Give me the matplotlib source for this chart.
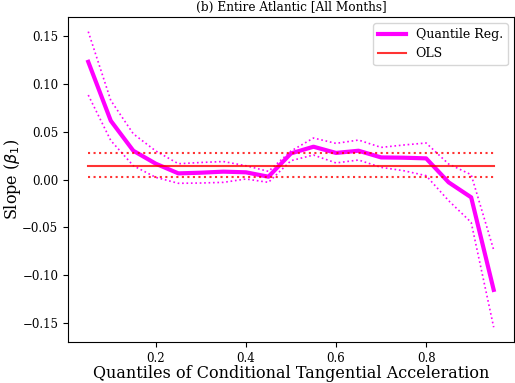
import numpy as np
import matplotlib
matplotlib.use( 'Agg' )
import matplotlib.pyplot as plt

plt.rcParams['font.family'] = 'DejaVu Serif'

quantiles = np.arange( 1, 20 ) * 0.05

qr_coef = [ 0.1234, 0.0617, 0.0303, 0.0167, 0.0066, 0.0073, 0.0084, 0.0077, 0.0031,
            0.0275, 0.0345, 0.0280, 0.0303, 0.0233, 0.0230, 0.0223, -0.0028, -0.0185,
            -0.1154 ]
qr_upper = [ 0.1550, 0.0830, 0.0480, 0.0300, 0.0167, 0.0180, 0.0190, 0.0146, 0.0087,
             0.0300, 0.0436, 0.0380, 0.0415, 0.0338, 0.0363, 0.0384, 0.0164, 0.0052,
             -0.0736 ]
qr_lower = [ 0.0886, 0.0410, 0.0146, 0.0024, -0.0038, -0.0035, -0.0028, 0.0007, -0.0028,
             0.0199, 0.0258, 0.0175, 0.0206, 0.0129, 0.0094, 0.0042, -0.0220, -0.0447,
             -0.1545 ]

ols_coef  = 0.0146
ols_upper = 0.0275
ols_lower = 0.0031

fig, ax = plt.subplots( figsize = ( 5.15, 3.83 ), dpi = 100 )

ax.plot( quantiles, qr_coef, c = 'magenta', lw = 3, label = 'Quantile Reg.' )
ax.plot( quantiles, qr_upper, c = 'magenta', lw = 1.2, ls = ':' )
ax.plot( quantiles, qr_lower, c = 'magenta', lw = 1.2, ls = ':' )

xx = [ quantiles[0], quantiles[-1] ]
ax.plot( xx, [ ols_coef ] * 2, c = 'red', alpha = 0.8, lw = 1.5, label = 'OLS' )
ax.plot( xx, [ ols_upper ] * 2, c = 'red', alpha = 0.8, lw = 1.5, ls = ':' )
ax.plot( xx, [ ols_lower ] * 2, c = 'red', alpha = 0.8, lw = 1.5, ls = ':' )

ax.set_title( '(b) Entire Atlantic [All Months]', fontsize = 8.7, pad = 4 )
ax.set_xlabel( 'Quantiles of Conditional Tangential Acceleration', fontsize = 11.5, labelpad = 0.5 )
ax.set_ylabel( r'Slope ($\beta_1$)', fontsize = 11.5, labelpad = -0.5 )
ax.tick_params( labelsize = 8.5 )
ax.legend( loc = 'upper right', fontsize = 9, handlelength = 2.2 )

plt.subplots_adjust( left = 0.132, right = 0.998, top = 0.956, bottom = 0.107 )
plt.savefig( 'out.png', dpi = 100 )
